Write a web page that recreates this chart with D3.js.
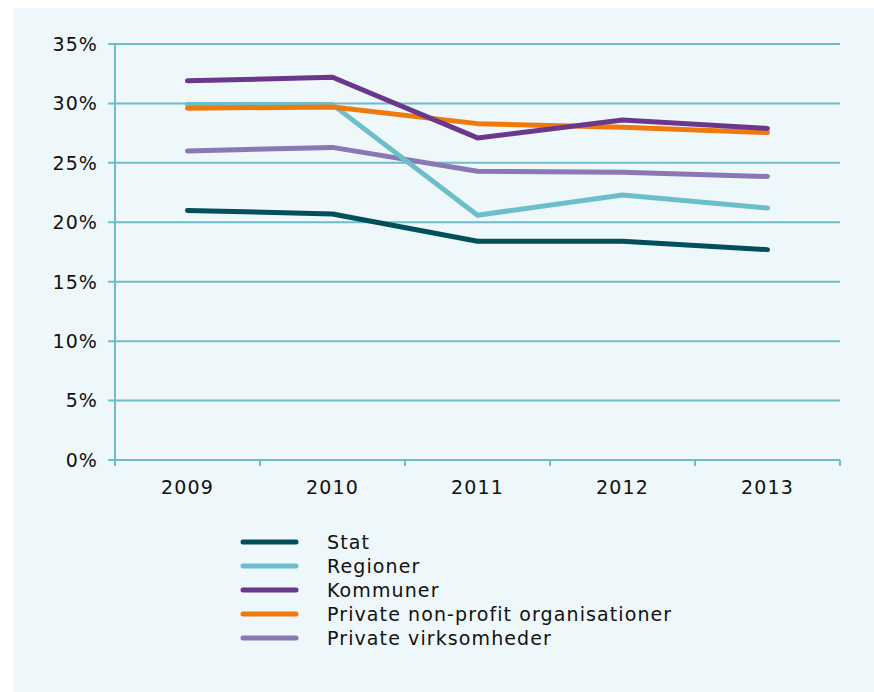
<!DOCTYPE html>
<html><head><meta charset="utf-8">
<script src="https://cdn.jsdelivr.net/npm/d3@7"></script>
<style>body{margin:0;background:#fff}svg{display:block}</style>
</head><body>
<script>
const years = ["2009","2010","2011","2012","2013"];
const seriesNames = ["Stat","Regioner","Kommuner","Private non-profit organisationer","Private virksomheder"];
const stat = [21.0, 20.7, 18.4, 18.4, 17.7];
const regioner = [29.9, 29.9, 20.6, 22.3, 21.2];
const kommuner = [31.9, 32.2, 27.1, 28.6, 27.9];
const nonprofit = [29.6, 29.7, 28.3, 28.0, 27.55];
const virksomheder = [26.0, 26.3, 24.3, 24.2, 23.85];
const yTicks = [0,5,10,15,20,25,30,35];
const colors = ["#004f5b","#6cbfca","#6a378c","#ef7a0c","#8a78b5"];

const W = 874, H = 692;
const svg = d3.select("body").append("svg").attr("width", W).attr("height", H);
svg.append("rect").attr("x",13).attr("y",8).attr("width",W-13).attr("height",H-8).attr("fill","#eef7f9");

const x = d3.scaleBand().domain(years).range([115, 840]);
const y = d3.scaleLinear().domain([0,35]).range([460, 44]);
const font = "'DejaVu Sans', Verdana, sans-serif";
const fs = 19, ls = 1.1;
const grid = "#6dbec9";

svg.append("g").selectAll("line").data(yTicks).join("line")
  .attr("x1",108).attr("x2",840).attr("y1",d=>y(d)).attr("y2",d=>y(d))
  .attr("stroke",grid).attr("stroke-width",2);
svg.append("g").selectAll("text").data(yTicks).join("text")
  .attr("x",98).attr("y",d=>y(d)).attr("dy","0.36em").attr("text-anchor","end")
  .attr("font-family",font).attr("font-size",fs).attr("letter-spacing",ls).attr("fill","#111")
  .text(d=>d+"%");
svg.append("line").attr("x1",115).attr("x2",115).attr("y1",y(35)).attr("y2",466)
  .attr("stroke",grid).attr("stroke-width",2);
const bounds = years.map(d=>x(d)).concat([x.range()[1]]);
svg.append("g").selectAll("line").data(bounds).join("line")
  .attr("x1",d=>d).attr("x2",d=>d).attr("y1",460).attr("y2",466)
  .attr("stroke",grid).attr("stroke-width",2);
svg.append("g").selectAll("text").data(years).join("text")
  .attr("x",d=>x(d)+x.bandwidth()/2).attr("y",494).attr("text-anchor","middle")
  .attr("font-family",font).attr("font-size",fs).attr("letter-spacing",ls).attr("fill","#111").text(d=>d);

const allSeries = [stat, regioner, kommuner, nonprofit, virksomheder];
const line = d3.line().x((d,i)=>x(years[i])+x.bandwidth()/2).y(d=>y(d));
const order = [0,4,1,3,2];
order.forEach(k=>{
  svg.append("path").attr("d", line(allSeries[k])).attr("fill","none")
    .attr("stroke",colors[k]).attr("stroke-width",5)
    .attr("stroke-linecap","round").attr("stroke-linejoin","round");
});

const lg = svg.append("g");
seriesNames.forEach((n,i)=>{
  const yy = 542 + i*24;
  lg.append("line").attr("x1",243).attr("x2",296).attr("y1",yy).attr("y2",yy)
    .attr("stroke",colors[i]).attr("stroke-width",5).attr("stroke-linecap","round");
  lg.append("text").attr("x",327).attr("y",yy).attr("dy","0.36em")
    .attr("font-family",font).attr("font-size",fs).attr("letter-spacing",ls).attr("fill","#111").text(n);
});
</script>
</body></html>
